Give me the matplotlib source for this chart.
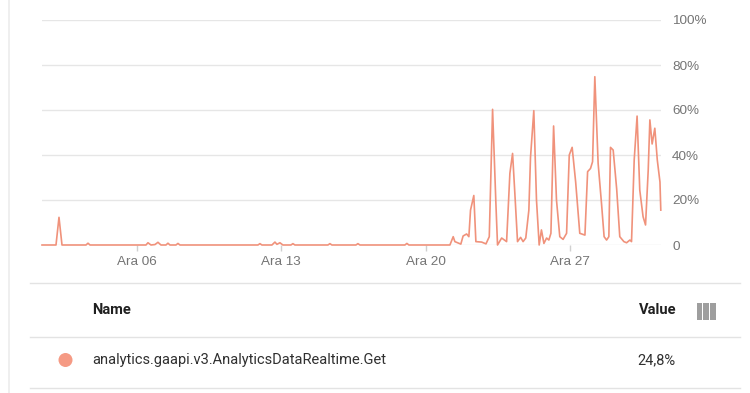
import matplotlib
matplotlib.use("Agg")
import matplotlib.pyplot as plt
from matplotlib.lines import Line2D
from matplotlib.patches import Ellipse, Rectangle
import pandas as pd

plt.rcParams['font.family'] = ['Roboto', 'DejaVu Sans']

# ---- data (days since 1 Dec 00:00, utilisation %) ----
day_offsets = [0.393, 1.072, 1.217, 1.363, 2.527, 2.624, 2.721, 5.436, 5.533, 5.679,
               5.873, 6.018, 6.164, 6.406, 6.503, 6.600, 6.891, 6.988, 7.085, 10.868,
               10.965, 11.062, 11.547, 11.693, 11.790, 11.935, 12.080, 12.468, 12.565, 12.662,
               14.263, 14.360, 14.457, 15.621, 15.718, 15.815, 17.997, 18.094, 18.191, 20.18,
               20.34, 20.42, 20.71, 20.82, 20.99, 21.10, 21.18, 21.34, 21.44, 21.72,
               21.93, 22.09, 22.25, 22.41, 22.49, 22.69, 22.93, 23.09, 23.22, 23.33,
               23.46, 23.61, 23.73, 23.86, 24.01, 24.09, 24.25, 24.38, 24.51, 24.62,
               24.74, 24.87, 24.98, 25.08, 25.21, 25.35, 25.51, 25.67, 25.84, 25.97,
               26.11, 26.28, 26.48, 26.73, 26.86, 27.00, 27.10, 27.21, 27.37, 27.54,
               27.66, 27.78, 27.89, 27.97, 28.10, 28.27, 28.42, 28.62, 28.75, 28.91,
               28.99, 29.12, 29.26, 29.39, 29.55, 29.67, 29.80, 29.88, 29.99, 30.12,
               30.24, 30.37, 30.41]
values = [0, 0, 12.3, 0, 0, 0.8, 0, 0, 1.0, 0,
          0.2, 1.2, 0, 0, 0.8, 0, 0, 0.7, 0, 0,
          0.6, 0, 0, 1.3, 0.3, 1.0, 0, 0, 0.6, 0,
          0, 0.6, 0, 0, 0.6, 0, 0, 0.7, 0, 0,
          3.7, 1.5, 0.4, 4.0, 4.9, 3.7, 15.5, 22.0, 1.5, 1.3,
          0.5, 3.7, 60.3, 18.7, 0, 3.1, 1.5, 31.9, 40.7, 23.0,
          1.5, 3.4, 1.5, 3.1, 15.5, 39.0, 59.7, 20.0, 0, 6.7,
          0.7, 3.1, 2.2, 5.2, 52.9, 20.0, 3.7, 2.5, 5.2, 40.0,
          43.4, 28.0, 5.2, 4.4, 32.6, 34.0, 37.0, 74.8, 36.3, 17.8,
          3.7, 2.2, 3.7, 43.4, 42.2, 24.9, 3.7, 1.5, 1.0, 2.2,
          1.5, 37.8, 57.3, 24.4, 12.6, 8.9, 33.3, 55.6, 44.9, 51.9,
          37.8, 28.0, 15.5]

start = pd.Timestamp("2023-12-01")
tick_days = ["2023-12-06", "2023-12-13", "2023-12-20", "2023-12-27"]
tick_labels = ["Ara 06", "Ara 13", "Ara 20", "Ara 27"]
y_ticks = [0, 20, 40, 60, 80, 100]
y_labels = ["0", "20%", "40%", "60%", "80%", "100%"]
x_range_days = (0.393, 30.42)

series_name = "analytics.gaapi.v3.AnalyticsDataRealtime.Get"
series_value = "24,8%"

LINE = "#f0927b"
GRID = "#e6e6e6"
TXT = "#757575"
AXFONT = ['Liberation Sans', 'DejaVu Sans']

W, H = 750, 393
fig = plt.figure(figsize=(W / 100, H / 100), dpi=100)
fig.patch.set_facecolor("white")

ax = fig.add_axes([42 / W, (H - 245) / H, (661 - 42) / W, 225 / H])
times = [start + pd.Timedelta(days=d) for d in day_offsets]
ax.plot(times, values, color=LINE, lw=1.2, clip_on=False, zorder=3)
ax.set_xlim(start + pd.Timedelta(days=x_range_days[0]), start + pd.Timedelta(days=x_range_days[1]))
ax.set_ylim(0, 100)

for s in ax.spines.values():
    s.set_visible(False)
ax.set_yticks(y_ticks)
ax.set_yticklabels(y_labels, family=AXFONT)
ax.yaxis.tick_right()
ax.tick_params(axis="y", length=0, pad=8, labelsize=9.7, labelcolor=TXT)
ax.grid(axis="y", color=GRID, lw=1)
ax.set_axisbelow(True)

ax.set_xticks([pd.Timestamp(t) for t in tick_days])
ax.set_xticklabels(tick_labels, family=AXFONT)
ax.tick_params(axis="x", length=4, width=1, color="#d0d0d0", pad=4, labelsize=9.7, labelcolor=TXT)

# ---- table / card decorations ----
def hline(y, x0=30, x1=740):
    fig.add_artist(Line2D([x0 / W, x1 / W], [1 - y / H, 1 - y / H], color="#e3e3e3", lw=1))

fig.add_artist(Line2D([8.5 / W, 8.5 / W], [0, 1], color="#ececec", lw=1.2))
hline(283)
hline(337)
hline(388)

fig.text(92 / W, 1 - 310 / H, "Name", fontsize=10.5, fontweight="bold", color="#202020", va="center", ha="left")
fig.text(676 / W, 1 - 310 / H, "Value", fontsize=10.5, fontweight="bold", color="#202020", va="center", ha="right")
for x0 in (696.5, 703.3, 710.1):
    fig.add_artist(Rectangle((x0 / W, 1 - 319.5 / H), 5.8 / W, 17 / H, color="#9e9e9e", lw=0))

fig.add_artist(Ellipse((65.5 / W, 1 - 360 / H), 14 / W, 14 / H, color="#f59a84", lw=0))
fig.text(92 / W, 1 - 360 / H, series_name, fontsize=10.5, color="#303030", va="center", ha="left")
fig.text(676 / W, 1 - 360 / H, series_value, fontsize=10.5, color="#303030", va="center", ha="right")

fig.savefig("out.png", dpi=100)
